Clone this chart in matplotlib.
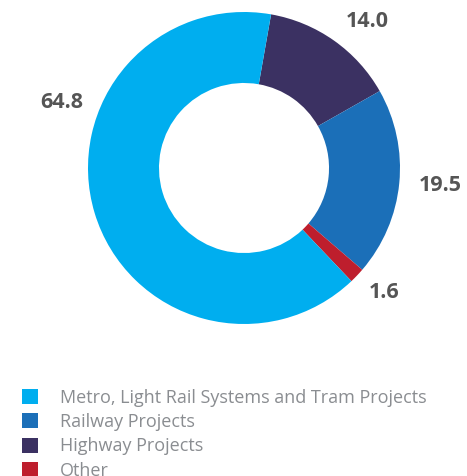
import matplotlib
matplotlib.use("Agg")
import matplotlib.pyplot as plt
from matplotlib.patches import Patch

plt.rcParams['font.family'] = ['Open Sans', 'DejaVu Sans']

# segment order runs clockwise from just right of 12 o'clock
categories = ['Highway Projects', 'Railway Projects', 'Other',
              'Metro, Light Rail Systems and Tram Projects']
shares = [14.0, 19.5, 1.6, 64.8]
colors = ['#3b3162', '#1b6fb8', '#be1e2d', '#00aeef']
value_labels = ['14.0', '19.5', '1.6', '64.8']
label_pos = [(0.79, 0.94), (1.26, -0.11), (0.90, -0.80), (-1.17, 0.42)]

legend_order = [3, 1, 0, 2]

W, H = 467, 476
fig = plt.figure(figsize=(W / 100, H / 100), dpi=100)

cx, cy, r = 244, 168, 156
ax = fig.add_axes([(cx - r) / W, (H - cy - r) / H, 2 * r / W, 2 * r / H])
ax.pie(shares, colors=colors, startangle=80, counterclock=False,
       radius=1.0, wedgeprops=dict(width=0.455, linewidth=0))
ax.set_xlim(-1, 1)
ax.set_ylim(-1, 1)
ax.set_aspect('equal')
ax.axis('off')

for txt, (x, y) in zip(value_labels, label_pos):
    ax.text(x, y, txt, ha='center', va='center', fontsize=15.5,
            fontweight='bold', color='#555555', clip_on=False)

handles = [Patch(facecolor=colors[i], edgecolor='none') for i in legend_order]
labels = [categories[i] for i in legend_order]
fig.legend(handles, labels, loc='upper left', bbox_to_anchor=(18 / W, 1 - 385 / H),
           frameon=False, fontsize=13, handlelength=0.9, handleheight=0.9,
           handletextpad=1.2, labelspacing=0.35, labelcolor='#8a8d91',
           borderaxespad=0, borderpad=0.2)

fig.savefig('out.png', dpi=100)
